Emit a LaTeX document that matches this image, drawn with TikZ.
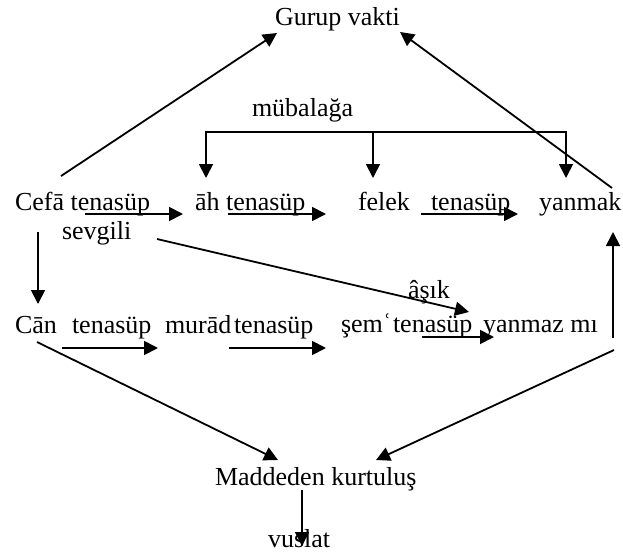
\documentclass[tikz,border=0pt]{standalone}
\usepackage{fontspec}
\setmainfont{Liberation Serif}
\usetikzlibrary{arrows.meta}
\tikzset{
  lbl/.style={anchor=base west,inner sep=0pt,outer sep=0pt,font=\fontsize{26}{30}\selectfont},
  arr/.style={line width=1.8pt,-{Triangle[length=14pt,width=14pt]}},
  barr/.style={line width=1.8pt,{Triangle[length=14pt,width=14pt]}-{Triangle[length=14pt,width=14pt]}},
}
\begin{document}
\begin{tikzpicture}[x=1pt,y=-1pt]
\useasboundingbox (0,0) rectangle (623,552);
% texts
\node[lbl] (gurup) at (275,25) {Gurup vakti};
\node[lbl] (mub) at (252,116) {mübalağa};
\node[lbl] (cefa) at (15,210) {Cefā tenasüp};
\node[lbl] (sevgili) at (62,239) {sevgili};
\node[lbl] (ah) at (195,210) {āh tenasüp};
\node[lbl] (felek) at (358,210) {felek};
\node[lbl] (ten1) at (431,210) {tenasüp};
\node[lbl] (yanmak) at (539,210) {yanmak};
\node[lbl] (asik) at (408,298) {âşık};
\node[lbl] (can) at (15,333) {Cān};
\node[lbl] (ten2) at (72,333) {tenasüp};
\node[lbl] (murad) at (165,333) {murād};
\node[lbl] (ten3) at (234,333) {tenasüp};
\node[lbl] (sem) at (341,332) {şemʿ};
\node[lbl] (ten4) at (393,332) {tenasüp};
\node[lbl] (yanmaz) at (483,332) {yanmaz mı};
\node[lbl] (madde) at (215,485) {Maddeden kurtuluş};
\node[lbl] (vuslat) at (268,547) {vuslat};
% connector end points
\coordinate (c1s) at (61,176);   \coordinate (c1e) at (277,33);
\coordinate (c2s) at (612,188);  \coordinate (c2e) at (400,32);
\coordinate (bL) at (206,178);   \coordinate (bLc) at (206,132);
\coordinate (bRc) at (566,132);  \coordinate (bR) at (566,178);
\coordinate (bMc) at (373,132);  \coordinate (bM) at (373,178);
\coordinate (r1a) at (85,214);   \coordinate (r1b) at (183,214);
\coordinate (r2a) at (228,214);  \coordinate (r2b) at (326,214);
\coordinate (r3a) at (421,214);  \coordinate (r3b) at (518,214);
\coordinate (sva) at (157,239);  \coordinate (svb) at (469,312);
\coordinate (cda) at (38,232);   \coordinate (cdb) at (38,304);
\coordinate (yua) at (613,338);  \coordinate (yub) at (613,232);
\coordinate (s1a) at (62,348);   \coordinate (s1b) at (158,348);
\coordinate (s2a) at (229,348);  \coordinate (s2b) at (326,348);
\coordinate (s3a) at (422,337);  \coordinate (s3b) at (494,337);
\coordinate (cma) at (37,342);   \coordinate (cmb) at (278,460);
\coordinate (rma) at (614,350);  \coordinate (rmb) at (376,460);
\coordinate (mva) at (302,490);  \coordinate (mvb) at (302,546);
% connectors
\draw[arr] (c1s) -- (c1e);
\draw[arr] (c2s) -- (c2e);
\draw[barr] (bL) -- (bLc) -- (bRc) -- (bR);
\draw[arr] (bMc) -- (bM);
\draw[arr] (r1a) -- (r1b);
\draw[arr] (r2a) -- (r2b);
\draw[arr] (r3a) -- (r3b);
\draw[arr] (sva) -- (svb);
\draw[arr] (cda) -- (cdb);
\draw[arr] (yua) -- (yub);
\draw[arr] (s1a) -- (s1b);
\draw[arr] (s2a) -- (s2b);
\draw[arr] (s3a) -- (s3b);
\draw[arr] (cma) -- (cmb);
\draw[arr] (rma) -- (rmb);
\draw[arr] (mva) -- (mvb);
\end{tikzpicture}
\end{document}
